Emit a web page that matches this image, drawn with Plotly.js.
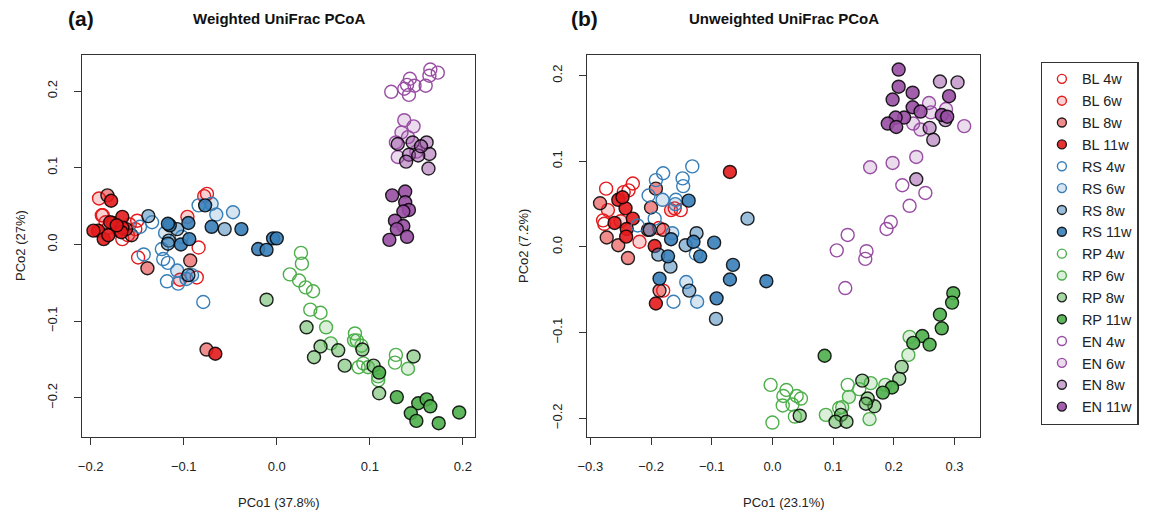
<!DOCTYPE html>
<html>
<head>
<meta charset="utf-8">
<script src="https://cdn.plot.ly/plotly-3.0.1.min.js"></script>
<style>html,body{margin:0;padding:0;background:#fff;}#chart{width:1157px;height:512px;}</style>
</head>
<body>
<div id="chart"></div>
<script>
// ---------- DATA: [PCo1, PCo2] per sample ----------
// Weighted UniFrac (panel a)
const W_BL4  = [[-0.187,0.038],[-0.150,0.031],[-0.152,0.020],[-0.166,0.007],[-0.149,-0.017],[-0.075,0.066],[-0.084,-0.004],[-0.086,-0.043],[-0.181,0.022],[-0.160,0.012]];
const W_BL6  = [[-0.191,0.060],[-0.188,0.038],[-0.184,0.029],[-0.104,-0.046],[-0.096,0.036],[-0.078,0.063],[-0.170,0.018],[-0.158,0.026]];
const W_BL8  = [[-0.182,0.064],[-0.156,0.012],[-0.139,-0.031],[-0.093,-0.021],[-0.0755,-0.137],[-0.176,0.028],[-0.162,0.020]];
const W_BL11 = [[-0.178,0.057],[-0.166,0.036],[-0.166,0.022],[-0.167,0.016],[-0.192,0.018],[-0.197,0.018],[-0.186,0.007],[-0.181,0.012],[-0.179,0.029],[-0.172,0.025],[-0.066,-0.1425]];
const W_RS4  = [[-0.143,-0.013],[-0.1235,-0.006],[-0.122,-0.019],[-0.117,-0.024],[-0.118,-0.048],[-0.106,-0.051],[-0.079,-0.075],[-0.084,0.051],[-0.147,0.023],[-0.134,0.029],[-0.102,0.010]];
const W_RS6  = [[-0.047,0.042],[-0.065,0.039],[-0.070,0.053],[-0.107,-0.034],[-0.091,-0.040],[-0.120,0.015],[-0.097,-0.045]];
const W_RS8  = [[-0.138,0.037],[-0.116,0.005],[-0.056,0.020],[-0.095,-0.040],[-0.117,0.001],[-0.107,0.020]];
const W_RS11 = [[-0.115,0.025],[-0.095,0.028],[-0.103,0.000],[-0.094,0.007],[-0.077,0.051],[-0.070,0.023],[-0.038,0.020],[-0.020,-0.006],[-0.011,-0.007],[-0.004,0.008],[0.000,0.008],[-0.117,0.027]];
const W_RP4  = [[0.026,-0.011],[0.027,-0.025],[0.014,-0.039],[0.024,-0.047],[0.031,-0.056],[0.039,-0.061],[0.036,-0.085],[0.047,-0.089],[0.084,-0.116],[0.086,-0.125],[0.091,-0.132],[0.088,-0.160],[0.093,-0.155],[0.109,-0.177],[0.127,-0.154],[0.128,-0.144]];
const W_RP6  = [[0.053,-0.108],[0.058,-0.129],[0.083,-0.125],[0.141,-0.162],[0.109,-0.172],[0.098,-0.160]];
const W_RP8  = [[-0.011,-0.072],[0.032,-0.108],[0.047,-0.133],[0.040,-0.147],[0.066,-0.138],[0.073,-0.158],[0.092,-0.137],[0.104,-0.158],[0.110,-0.194],[0.147,-0.146]];
const W_RP11 = [[0.110,-0.167],[0.129,-0.199],[0.152,-0.207],[0.161,-0.202],[0.165,-0.211],[0.144,-0.220],[0.150,-0.230],[0.174,-0.233],[0.196,-0.219]];
const W_EN4  = [[0.123,0.199],[0.137,0.203],[0.142,0.195],[0.143,0.216],[0.148,0.207],[0.160,0.207],[0.165,0.228],[0.173,0.224],[0.164,0.220],[0.140,0.208]];
const W_EN6  = [[0.137,0.162],[0.147,0.154],[0.134,0.146],[0.128,0.133],[0.130,0.114],[0.141,0.140],[0.150,0.121]];
const W_EN8  = [[0.130,0.131],[0.146,0.133],[0.161,0.133],[0.164,0.118],[0.142,0.117],[0.152,0.116],[0.163,0.099],[0.139,0.108],[0.155,0.128]];
const W_EN11 = [[0.124,0.064],[0.138,0.069],[0.138,0.055],[0.142,0.045],[0.136,0.043],[0.127,0.031],[0.136,0.024],[0.129,0.020],[0.121,0.006],[0.140,0.010]];

// Unweighted UniFrac (panel b)
const U_BL4  = [[-0.274,0.068],[-0.230,0.074],[-0.245,0.064],[-0.237,0.066],[-0.279,0.031],[-0.277,0.027],[-0.161,0.045],[-0.151,0.043],[-0.180,-0.051],[-0.187,0.022]];
const U_BL6  = [[-0.219,0.006],[-0.167,0.043],[-0.271,0.043],[-0.250,0.030]];
const U_BL8  = [[-0.284,0.051],[-0.192,0.068],[-0.200,0.046],[-0.273,0.011],[-0.254,0.002],[-0.238,-0.013],[-0.205,0.020],[-0.180,0.020],[-0.186,-0.051]];
const U_BL11 = [[-0.254,0.055],[-0.242,0.045],[-0.230,0.033],[-0.260,0.028],[-0.240,0.021],[-0.241,0.012],[-0.194,0.001],[-0.192,-0.066],[-0.070,0.0875],[-0.247,0.058]];
const U_RS4  = [[-0.132,0.094],[-0.180,0.086],[-0.192,0.078],[-0.148,0.080],[-0.147,0.071],[-0.204,0.060],[-0.159,0.055],[-0.194,0.033],[-0.126,-0.008],[-0.163,-0.064],[-0.222,0.025]];
const U_RS6  = [[-0.181,0.055],[-0.142,-0.041],[-0.124,-0.064],[-0.165,0.016],[-0.160,0.050]];
const U_RS8  = [[-0.041,0.033],[-0.125,0.016],[-0.143,0.002],[-0.168,-0.023],[-0.137,-0.051],[-0.093,-0.084],[-0.202,0.020],[-0.188,-0.009]];
const U_RS11 = [[-0.138,0.054],[-0.167,0.009],[-0.172,-0.011],[-0.130,0.006],[-0.119,-0.011],[-0.096,0.005],[-0.065,-0.021],[-0.070,-0.038],[-0.010,-0.040],[-0.186,-0.037],[-0.092,-0.060]];
const U_RP4  = [[-0.003,-0.161],[0.023,-0.167],[0.018,-0.174],[0.040,-0.174],[0.047,-0.177],[0.017,-0.185],[0.033,-0.184],[0.000,-0.205],[0.037,-0.198],[0.124,-0.161],[0.143,-0.166],[0.110,-0.188]];
const U_RP6  = [[0.226,-0.105],[0.224,-0.126],[0.162,-0.159],[0.126,-0.175],[0.115,-0.187],[0.160,-0.201],[0.088,-0.196],[0.186,-0.161]];
const U_RP8  = [[0.213,-0.140],[0.209,-0.154],[0.148,-0.156],[0.168,-0.186],[0.157,-0.177],[0.154,-0.183],[0.113,-0.196],[0.104,-0.204],[0.122,-0.204],[0.045,-0.197]];
const U_RP11 = [[0.298,-0.054],[0.296,-0.065],[0.276,-0.079],[0.279,-0.095],[0.247,-0.104],[0.232,-0.112],[0.259,-0.114],[0.197,-0.164],[0.182,-0.170],[0.086,-0.127]];
const U_EN4  = [[0.214,0.072],[0.252,0.063],[0.226,0.048],[0.195,0.029],[0.188,0.021],[0.124,0.014],[0.106,-0.004],[0.155,-0.005],[0.153,-0.014],[0.120,-0.048]];
const U_EN6  = [[0.258,0.168],[0.261,0.157],[0.244,0.137],[0.232,0.144],[0.316,0.141],[0.286,0.161],[0.237,0.105],[0.198,0.098],[0.161,0.093]];
const U_EN8  = [[0.276,0.193],[0.305,0.192],[0.259,0.139],[0.265,0.125],[0.285,0.148],[0.237,0.079]];
const U_EN11 = [[0.208,0.207],[0.208,0.187],[0.198,0.172],[0.231,0.180],[0.231,0.163],[0.244,0.158],[0.217,0.151],[0.203,0.151],[0.190,0.144],[0.204,0.140],[0.291,0.176],[0.279,0.154],[0.288,0.152]];

// Groups, time points and labels
const sites = ["BL", "RS", "RP", "EN"];
const weeks = ["4w", "6w", "8w", "11w"];
const siteColors = {BL: [228,26,28], RS: [55,126,184], RP: [77,175,74], EN: [152,78,163]};
const weighted = {
  BL: [W_BL4, W_BL6, W_BL8, W_BL11], RS: [W_RS4, W_RS6, W_RS8, W_RS11],
  RP: [W_RP4, W_RP6, W_RP8, W_RP11], EN: [W_EN4, W_EN6, W_EN8, W_EN11]
};
const unweighted = {
  BL: [U_BL4, U_BL6, U_BL8, U_BL11], RS: [U_RS4, U_RS6, U_RS8, U_RS11],
  RP: [U_RP4, U_RP6, U_RP8, U_RP11], EN: [U_EN4, U_EN6, U_EN8, U_EN11]
};
const xTicksA = [-0.2, -0.1, 0.0, 0.1, 0.2];
const yTicksA = [-0.2, -0.1, 0.0, 0.1, 0.2];
const xTicksB = [-0.3, -0.2, -0.1, 0.0, 0.1, 0.2, 0.3];
const yTicksB = [-0.2, -0.1, 0.0, 0.1, 0.2];

// ---------- STYLE ----------
function rgba(c, a) { return "rgba(" + c[0] + "," + c[1] + "," + c[2] + "," + a + ")"; }
function markerStyle(site, wi, size) {
  const c = siteColors[site];
  const fills = [0, 0.2, 0.5, 0.9];
  const edge = wi < 2 ? rgba(c, 1) : "rgba(0,0,0,0.85)";
  return {
    symbol: "circle", size: size,
    color: fills[wi] === 0 ? "rgba(0,0,0,0)" : rgba(c, fills[wi]),
    line: {color: edge, width: 1.4}
  };
}

const traces = [];
[[weighted, "x", "y"], [unweighted, "x2", "y2"]].forEach(function (panel) {
  sites.forEach(function (s) {
    weeks.forEach(function (w, wi) {
      const pts = panel[0][s][wi];
      traces.push({
        type: "scatter", mode: "markers", xaxis: panel[1], yaxis: panel[2],
        x: pts.map(p => p[0]), y: pts.map(p => p[1]),
        marker: markerStyle(s, wi, 13), showlegend: false, hoverinfo: "skip",
        name: s + " " + w
      });
    });
  });
});
// legend entries
sites.forEach(function (s) {
  weeks.forEach(function (w, wi) {
    traces.push({
      type: "scatter", mode: "markers", x: [null], y: [null],
      marker: markerStyle(s, wi, 9), showlegend: true, name: s + " " + w
    });
  });
});

const W = 1157, H = 512;
const px = v => v / W, py = v => 1 - v / H;
const axisCommon = {
  showgrid: false, zeroline: false, showline: true, mirror: true,
  linecolor: "#333", linewidth: 1.2, ticks: "outside", ticklen: 7, tickwidth: 1,
  tickcolor: "#333", tickformat: ".1f", tickmode: "array",
  tickfont: {family: "Liberation Sans, Arial, sans-serif", size: 13, color: "#222"}
};
const font = "Liberation Sans, Arial, sans-serif";
const layout = {
  width: W, height: H, margin: {l: 0, r: 0, t: 0, b: 0},
  paper_bgcolor: "#fff", plot_bgcolor: "#fff",
  xaxis: Object.assign({}, axisCommon, {domain: [px(82), px(475)], range: [-0.2093, 0.213], tickvals: xTicksA, anchor: "y", ticklabelstandoff: 10}),
  yaxis: Object.assign({}, axisCommon, {domain: [py(437), py(55)], range: [-0.251, 0.247], tickvals: yTicksA, anchor: "x", tickangle: -90, ticklabelstandoff: 12}),
  xaxis2: Object.assign({}, axisCommon, {domain: [px(587.3), px(980)], range: [-0.305, 0.342], tickvals: xTicksB, anchor: "y2", ticklabelstandoff: 10}),
  yaxis2: Object.assign({}, axisCommon, {domain: [py(436.7), py(55)], range: [-0.2215, 0.224], tickvals: yTicksB, anchor: "x2", tickangle: -90, ticklabelstandoff: 12}),
  showlegend: true,
  legend: {
    x: px(1040.7), y: py(61.7), xanchor: "left", yanchor: "top",
    bordercolor: "#333", borderwidth: 1.2, bgcolor: "#fff",
    font: {family: font, size: 14.5, color: "#222"}, itemwidth: 30, tracegroupgap: 0
  },
  annotations: [
    {text: "<b>(a)</b>", x: px(66), y: py(18), xref: "paper", yref: "paper", xanchor: "left", yanchor: "middle", showarrow: false, font: {family: font, size: 21, color: "#111"}},
    {text: "<b>Weighted UniFrac PCoA</b>", x: px(278.5), y: py(18), xref: "paper", yref: "paper", xanchor: "center", yanchor: "middle", showarrow: false, font: {family: font, size: 15, color: "#111"}},
    {text: "<b>(b)</b>", x: px(569), y: py(18), xref: "paper", yref: "paper", xanchor: "left", yanchor: "middle", showarrow: false, font: {family: font, size: 21, color: "#111"}},
    {text: "<b>Unweighted UniFrac PCoA</b>", x: px(783.6), y: py(18), xref: "paper", yref: "paper", xanchor: "center", yanchor: "middle", showarrow: false, font: {family: font, size: 15, color: "#111"}},
    {text: "PCo1 (37.8%)", x: px(278.5), y: py(502), xref: "paper", yref: "paper", xanchor: "center", yanchor: "middle", showarrow: false, font: {family: font, size: 13, color: "#222"}},
    {text: "PCo1 (23.1%)", x: px(783.6), y: py(502), xref: "paper", yref: "paper", xanchor: "center", yanchor: "middle", showarrow: false, font: {family: font, size: 13, color: "#222"}},
    {text: "PCo2 (27%)", x: px(20), y: py(246), xref: "paper", yref: "paper", xanchor: "center", yanchor: "middle", textangle: -90, showarrow: false, font: {family: font, size: 13, color: "#222"}},
    {text: "PCo2 (7.2%)", x: px(523), y: py(246), xref: "paper", yref: "paper", xanchor: "center", yanchor: "middle", textangle: -90, showarrow: false, font: {family: font, size: 13, color: "#222"}}
  ]
};
Plotly.newPlot("chart", traces, layout, {staticPlot: true, displayModeBar: false});
</script>
</body>
</html>
